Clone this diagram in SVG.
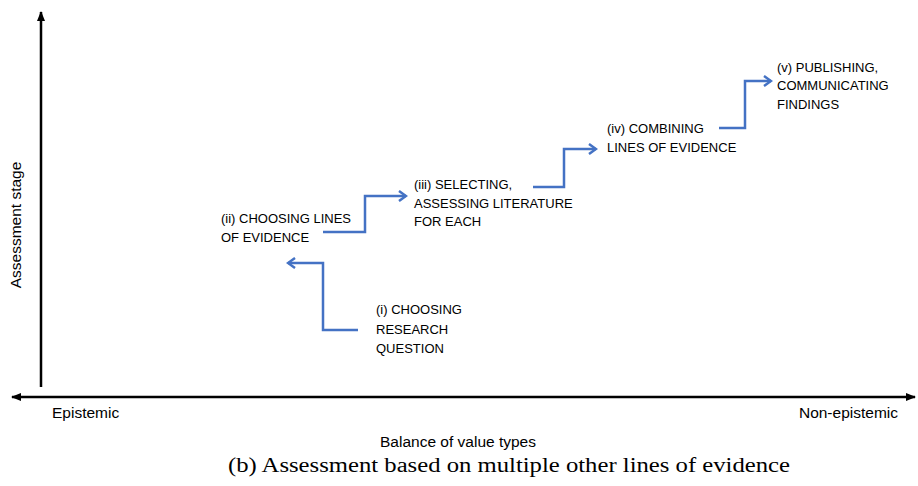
<svg xmlns="http://www.w3.org/2000/svg" width="918" height="486" viewBox="0 0 918 486">
<style>
.lbl{font-family:"Liberation Sans",Arial,sans-serif;font-size:13px;fill:#000}
.ax{font-family:"Liberation Sans",Arial,sans-serif;font-size:15.5px;fill:#000}
.cap{font-family:"Liberation Serif","DejaVu Serif",serif;font-size:20.5px;fill:#000}
.axis{stroke:#000;stroke-width:2.5;fill:none}
.flow{stroke:#4472C4;stroke-width:2.5;fill:none;stroke-linejoin:miter}
</style>
<defs>
<marker id="ah" viewBox="0 0 10 10" refX="9" refY="5" markerWidth="4" markerHeight="4" orient="auto-start-reverse" markerUnits="strokeWidth">
<path d="M0,1 L10,5 L0,9 z" fill="#000"/>
</marker>
<marker id="bh" viewBox="0 0 12 12" refX="10" refY="6" markerWidth="12" markerHeight="12" orient="auto" markerUnits="userSpaceOnUse">
<path d="M3,1 L10,6 L3,11" fill="none" stroke="#4472C4" stroke-width="2.5"/>
</marker>
</defs>
<g id="axes">
<line class="axis" x1="41" y1="387" x2="41" y2="12" marker-end="url(#ah)"/>
<line class="axis" x1="12" y1="397" x2="915" y2="397" marker-start="url(#ah)" marker-end="url(#ah)"/>
<text class="ax" transform="translate(21,225) rotate(-90)" text-anchor="middle">Assessment stage</text>
<text class="ax" x="52" y="418">Epistemic</text>
<text class="ax" x="898" y="418" text-anchor="end">Non-epistemic</text>
<text class="ax" x="458" y="447" text-anchor="middle">Balance of value types</text>
<text class="cap" x="228" y="472" textLength="562" lengthAdjust="spacingAndGlyphs">(b) Assessment based on multiple other lines of evidence</text>
</g>
<g id="connectors">
<polyline class="flow" points="358,330 323,330 323,263 288,263" marker-end="url(#bh)"/>
<polyline class="flow" points="323,232 365,232 365,196 406,196" marker-end="url(#bh)"/>
<polyline class="flow" points="533,187 564,187 564,149 596,149" marker-end="url(#bh)"/>
<polyline class="flow" points="719,128 745,128 745,81 771,81" marker-end="url(#bh)"/>
</g>
<g id="node-i"><text class="lbl" x="376" y="314">(i) CHOOSING</text><text class="lbl" x="376" y="334">RESEARCH</text><text class="lbl" x="376" y="353">QUESTION</text></g>
<g id="node-ii"><text class="lbl" x="221" y="223">(ii) CHOOSING LINES</text><text class="lbl" x="221" y="242">OF EVIDENCE</text></g>
<g id="node-iii"><text class="lbl" x="414" y="189">(iii) SELECTING,</text><text class="lbl" x="414" y="208">ASSESSING LITERATURE</text><text class="lbl" x="414" y="226">FOR EACH</text></g>
<g id="node-iv"><text class="lbl" x="607" y="133">(iv) COMBINING</text><text class="lbl" x="607" y="152">LINES OF EVIDENCE</text></g>
<g id="node-v"><text class="lbl" x="777" y="72">(v) PUBLISHING,</text><text class="lbl" x="777" y="90">COMMUNICATING</text><text class="lbl" x="777" y="109">FINDINGS</text></g>
</svg>
